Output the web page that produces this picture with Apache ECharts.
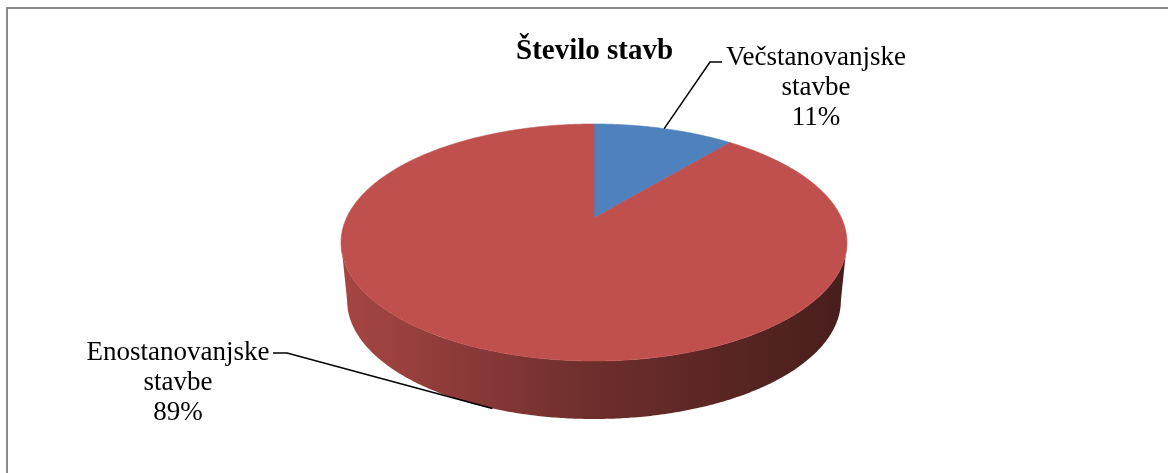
<!DOCTYPE html>
<html>
<head>
<meta charset="utf-8">
<script src="https://cdn.jsdelivr.net/npm/echarts@6/dist/echarts.min.js"></script>
<style>
html,body{margin:0;padding:0;background:#fff;}
#chart{width:1168px;height:473px;}
</style>
</head>
<body>
<div id="chart"></div>
<script>
// ---- data ----
const titleText = 'Število stavb';
const categories = ['Večstanovanjske stavbe', 'Enostanovanjske stavbe'];
const values = [11, 89];
const colors = ['#4F81BD', '#C0504D'];

// ---- layout (projection of the tilted pie) ----
const CX = 594, CY = 242;       // centre of top ellipse
const A = 247.5, B = 118.4;     // projection scales
const C = -24, K = 0.2068;      // perspective shift / factor
const THICK = 58, BOT_SCALE = 0.976;
const labelLayout = [
  { pos: [816, 88], line: [[722, 62], [710, 62]] },
  { pos: [178, 383], line: [[273, 353], [287, 353]] }
];

function projTop(t) {
  const X = Math.sin(t), Z = Math.cos(t);
  const d = 1 + K * Z;
  return [CX + A * X / d, CY + (-B * Z + C) / d];
}
function projBot(t) {
  const p = projTop(t);
  return [CX + (p[0] - CX) * BOT_SCALE, p[1] + THICK];
}
const total = values.reduce((a, b) => a + b, 0);
function sliceAngles(i) {
  let s = 0;
  for (let j = 0; j < i; j++) s += values[j];
  return [s / total * Math.PI * 2, (s + values[i]) / total * Math.PI * 2];
}
function arc(fn, a, b) {
  const pts = [];
  const n = Math.max(2, Math.ceil(Math.abs(b - a) / (Math.PI / 360)));
  for (let k = 0; k <= n; k++) pts.push(fn(a + (b - a) * k / n));
  return pts;
}
function shade(hex, f) {
  const n = parseInt(hex.slice(1), 16);
  const r = Math.round(((n >> 16) & 255) * f), g = Math.round(((n >> 8) & 255) * f), b = Math.round((n & 255) * f);
  return 'rgb(' + r + ',' + g + ',' + b + ')';
}
const visA = Math.acos(-K), visB = Math.PI * 2 - Math.acos(-K);

const data = categories.map((c, i) => ({ name: c, value: values[i] }));

const chart = echarts.init(document.getElementById('chart'), null, { renderer: 'canvas' });
chart.setOption({
  animation: false,
  backgroundColor: '#ffffff',
  title: {
    text: titleText, left: 511, top: 32,
    textStyle: { fontFamily: '"Liberation Serif", "Times New Roman", serif', fontSize: 29, fontWeight: 'bold', color: '#000' }
  },
  graphic: [{
    type: 'rect', silent: true, z: -10,
    shape: { x: 7, y: 8, width: 1300, height: 600 },
    style: { fill: 'none', stroke: '#8a8a8a', lineWidth: 2 }
  }],
  series: [
    { // side walls
      type: 'custom', coordinateSystem: 'none', z: 1, data: data,
      renderItem: function (params, api) {
        const i = params.dataIndex;
        const [a0, a1] = sliceAngles(i);
        const s = Math.max(a0, visA), e = Math.min(a1, visB);
        if (e <= s) return null;
        const top = arc(projTop, s, e);
        const bot = arc(projBot, e, s);
        const left = projTop(visB)[0], right = projTop(visA)[0];
        return {
          type: 'polygon',
          shape: { points: top.concat(bot) },
          style: {
            fill: {
              type: 'linear', global: true, x: left, y: 0, x2: right, y2: 0,
              colorStops: [
                { offset: 0, color: shade(colors[i], 0.87) },
                { offset: 0.5, color: shade(colors[i], 0.57) },
                { offset: 1, color: shade(colors[i], 0.37) }
              ]
            },
            stroke: null
          }
        };
      }
    },
    { // top faces
      type: 'custom', coordinateSystem: 'none', z: 2, data: data,
      renderItem: function (params, api) {
        const i = params.dataIndex;
        const [a0, a1] = sliceAngles(i);
        const centre = [CX, CY + C];
        return {
          type: 'polygon',
          shape: { points: [centre].concat(arc(projTop, a0, a1)) },
          style: { fill: colors[i], stroke: colors[i], lineWidth: 0.6 }
        };
      }
    },
    { // labels and leader lines
      type: 'custom', coordinateSystem: 'none', z: 3, data: data,
      renderItem: function (params, api) {
        const i = params.dataIndex;
        const [a0, a1] = sliceAngles(i);
        const m = (a0 + a1) / 2;
        const anchor = Math.cos(m) < 0 ? projBot(m) : projTop(m);
        const L = labelLayout[i];
        const pct = Math.round(values[i] / total * 100) + '%';
        const txt = categories[i].split(' ').join('\n') + '\n' + pct;
        return {
          type: 'group',
          children: [
            {
              type: 'polyline',
              shape: { points: L.line.concat([anchor]) },
              style: { stroke: '#000', lineWidth: 1.5, fill: null }
            },
            {
              type: 'text',
              style: {
                text: txt, x: L.pos[0], y: L.pos[1],
                align: 'center', verticalAlign: 'middle',
                font: '27px "Liberation Serif", "Times New Roman", serif',
                lineHeight: 30, fill: '#000'
              }
            }
          ]
        };
      }
    }
  ]
});
</script>
</body>
</html>
